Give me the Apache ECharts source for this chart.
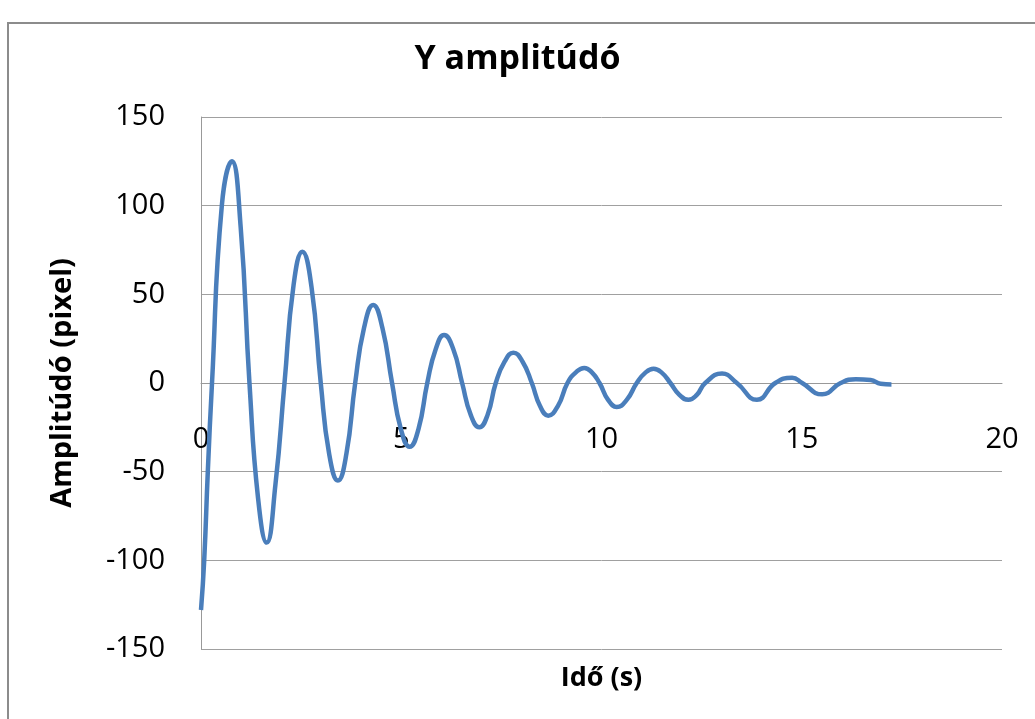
<!DOCTYPE html>
<html>
<head>
<meta charset="utf-8">
<script src="https://cdn.jsdelivr.net/npm/echarts@6/dist/echarts.min.js"></script>
<style>html,body{margin:0;padding:0;background:#fff;}#c{width:1035px;height:719px;}</style>
</head>
<body>
<div id="c"></div>
<script>
const timeValues = [0, 0.08, 0.17, 0.275, 0.52, 0.77, 0.99, 1.21, 1.425, 1.64, 1.86, 2.085, 2.31, 2.53, 2.76, 2.99, 3.2, 3.42, 3.63, 3.85, 4.07, 4.30, 4.53, 4.77, 4.99, 5.21, 5.43, 5.65, 5.86, 6.07, 6.30, 6.52, 6.735, 6.95, 7.155, 7.36, 7.58, 7.80, 8.03, 8.26, 8.465, 8.67, 8.91, 9.15, 9.36, 9.57, 9.76, 9.95, 10.165, 10.38, 10.63, 10.88, 11.09, 11.30, 11.51, 11.72, 11.945, 12.17, 12.38, 12.59, 13.01, 13.38, 13.88, 14.34, 14.76, 15.01, 15.51, 15.97, 16.35, 16.72, 16.97, 17.24];
const amplitudeValues = [-128, -100, -50, 0, 100, 125, 88, 0, -65, -90, -57, 0, 55, 74, 54, 0, -40, -55, -40, 0, 31, 44, 31, 0, -26, -36, -26, 0, 19, 27, 19, 0, -18, -25, -18, 0, 12, 17, 12, 0, -13, -18.4, -13, 0, 6, 8.5, 6, 0, -9.5, -13.5, -9.5, 0, 5.7, 8, 5.7, 0, -6.7, -9.5, -6.7, 0, 5.3, 0, -9.5, 0, 3, 0, -6.4, 0, 2.1, 1.7, -0.4, -0.8];
const xTickValues = [0, 5, 10, 15, 20];
const yTickValues = [-150, -100, -50, 0, 50, 100, 150];
const titleText = 'Y amplitúdó';
const xAxisName = 'Idő (s)';
const yAxisName = 'Amplitúdó (pixel)';

const chart = echarts.init(document.getElementById('c'));
const font = '"Open Sans", "Noto Sans", sans-serif';
const gridTop = 117, gridBottom = 70, H = 719;
const zeroOffset = -((H - gridBottom) - gridTop) / 2; // move x axis from bottom to y = 0
chart.setOption({
  animation: false,
  backgroundColor: '#fff',
  graphic: [{
    type: 'rect', silent: true, z: -1,
    shape: {x: 8, y: 23, width: 1100, height: 800},
    style: {fill: 'none', stroke: '#8c8c8c', lineWidth: 2}
  }],
  title: {
    text: titleText, left: 'center', top: 37,
    textStyle: {fontFamily: font, fontSize: 34, fontWeight: 'bold', color: '#000'}
  },
  grid: {left: 201, right: 33, top: gridTop, bottom: gridBottom, outerBoundsMode: 'none', containLabel: false},
  xAxis: {
    type: 'value', min: xTickValues[0], max: xTickValues[xTickValues.length - 1], interval: 5,
    offset: zeroOffset,
    name: xAxisName, nameLocation: 'middle', nameGap: 282, nameMoveOverlap: false,
    nameTextStyle: {fontFamily: font, fontSize: 27, fontWeight: 'bold', color: '#000'},
    axisLine: {show: true, onZero: false, lineStyle: {color: '#999', width: 1}},
    axisTick: {show: false},
    axisLabel: {fontFamily: font, fontSize: 29, color: '#000', margin: 42},
    splitLine: {show: false}
  },
  yAxis: {
    type: 'value', min: yTickValues[0], max: yTickValues[yTickValues.length - 1], interval: 50,
    name: yAxisName, nameLocation: 'middle', nameGap: 124, nameRotate: 90, nameMoveOverlap: false,
    nameTextStyle: {fontFamily: font, fontSize: 29, fontWeight: 'bold', color: '#000'},
    axisLine: {show: true, onZero: false, lineStyle: {color: '#999', width: 1}},
    axisTick: {show: false},
    axisLabel: {fontFamily: font, fontSize: 29, color: '#000', margin: 36},
    splitLine: {show: true, lineStyle: {color: '#a0a0a0', width: 1}}
  },
  series: [{
    type: 'line',
    data: timeValues.map((t, i) => [t, amplitudeValues[i]]),
    smooth: 0.5,
    showSymbol: false,
    lineStyle: {color: '#4a7ebb', width: 4.5},
    clip: false
  }]
});
</script>
</body>
</html>
